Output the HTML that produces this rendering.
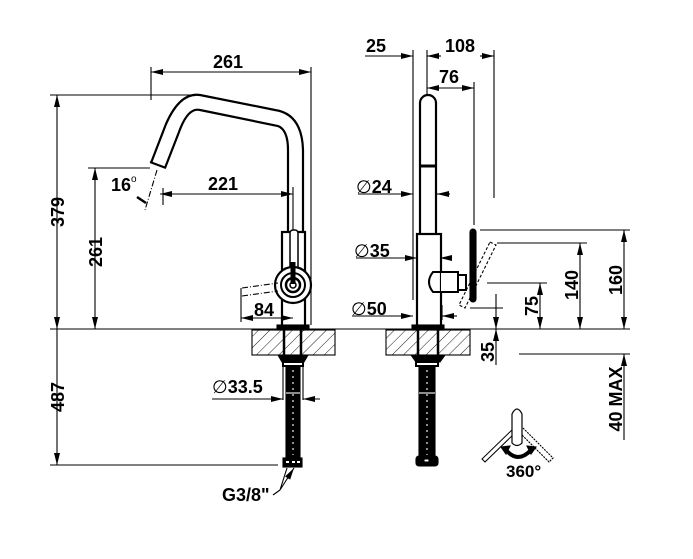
<!DOCTYPE html>
<html><head><meta charset="utf-8"><style>
html,body{margin:0;padding:0;background:#fff}
svg{display:block}
text{font-family:"Liberation Sans",Arial,sans-serif;font-weight:bold;font-size:18px;fill:#000}
</style></head><body>
<svg width="693" height="559" viewBox="0 0 693 559" xmlns="http://www.w3.org/2000/svg">
<defs>
<pattern id="h" width="8" height="8" patternUnits="userSpaceOnUse" patternTransform="rotate(45)">
<line x1="0" y1="0" x2="0" y2="8" stroke="#000" stroke-width="0.9"/></pattern>
<marker id="a" viewBox="0 0 12 6" refX="12" refY="3" markerWidth="12" markerHeight="6" markerUnits="userSpaceOnUse" orient="auto-start-reverse"><path d="M0,0 L12,3 L0,6z" fill="#000"/></marker>
</defs>
<g stroke="#000" stroke-width="1.1" fill="none">
<line x1="50" y1="329" x2="630" y2="329"/>
<line x1="519" y1="354" x2="630" y2="354"/>
<rect x="252" y="330" width="83" height="25" fill="url(#h)"/>
<rect x="386" y="330" width="84" height="25" fill="url(#h)"/>

<line x1="151" y1="67" x2="151" y2="100"/>
<line x1="311" y1="67" x2="311" y2="325"/>
<line x1="151" y1="72" x2="311" y2="72" marker-start="url(#a)" marker-end="url(#a)"/>
<line x1="50" y1="95" x2="198" y2="95"/>
<line x1="57" y1="95" x2="57" y2="329" marker-start="url(#a)" marker-end="url(#a)"/>
<line x1="57" y1="329" x2="57" y2="465" marker-end="url(#a)"/>
<line x1="50" y1="465" x2="278" y2="465"/>
<line x1="88" y1="168" x2="150" y2="168"/>
<line x1="95" y1="168" x2="95" y2="329" marker-start="url(#a)" marker-end="url(#a)"/>
<line x1="160" y1="194" x2="293" y2="194" marker-start="url(#a)" marker-end="url(#a)"/>
<line x1="163" y1="188" x2="163" y2="205"/>
<line x1="293" y1="187" x2="293" y2="235"/>
<line x1="157" y1="170" x2="145" y2="210" stroke-dasharray="6,2,1,2"/>
<path d="M137,197 L146,203" stroke-width="2.5"/>
<path d="M151,163 L166,124 Q180,92 200,95 L275,110 Q302,114 303,150 L303,232" stroke-width="2.2"/>
<path d="M165,168 L179,132 Q188,107 200,110 L278,126 Q288,130 288,150 L288,232" stroke-width="2.2"/>
<line x1="150" y1="162" x2="166" y2="168" stroke-width="2.2"/>
<rect x="282" y="232" width="23" height="96" stroke-width="2.2"/>
<rect x="290" y="230" width="8" height="54" rx="3" stroke-width="1.5" fill="#fff"/>
<circle cx="293" cy="285" r="18" stroke-width="2.2" fill="#fff"/>
<circle cx="293" cy="285" r="12" stroke-width="2"/>
<circle cx="293" cy="285" r="7" stroke-width="2.5"/>
<circle cx="293" cy="285" r="3" stroke-width="1.5"/>
<line x1="293" y1="262" x2="293" y2="284" stroke-width="5"/>
<path d="M242,288 L278,283 M242,296 L278,291" stroke-dasharray="6,2,1,2"/>
<line x1="241" y1="288" x2="241" y2="322"/>
<line x1="241" y1="318" x2="293" y2="318" marker-start="url(#a)" marker-end="url(#a)"/>
<rect x="277" y="325" width="32" height="5" fill="#000"/>
<line x1="284" y1="330" x2="284" y2="355" stroke-width="2.5"/>
<line x1="301" y1="330" x2="301" y2="355" stroke-width="2.5"/>
<path d="M278,355 L308,355 L304,362 L282,362z" fill="#000"/>
<rect x="283" y="362" width="20" height="4" stroke-width="2"/>
<rect x="286" y="366" width="14" height="91" fill="#000"/>
<line x1="293" y1="370" x2="293" y2="455" stroke="#fff" stroke-dasharray="2,4"/>
<line x1="286" y1="393" x2="300" y2="393" stroke="#fff"/>
<rect x="283" y="458" width="19" height="9" fill="#000"/>
<path d="M286,462h3M292,462h3M297,462h3" stroke="#fff" stroke-width="2"/>
<line x1="283" y1="366" x2="283" y2="400"/>
<line x1="303" y1="366" x2="303" y2="400"/>
<line x1="212" y1="399" x2="283" y2="399" marker-end="url(#a)"/>
<line x1="320" y1="399" x2="303" y2="399" marker-end="url(#a)"/>
<path d="M280,490 L287,468 M280,490 L294,468" marker-end="url(#a)"/>
<line x1="273" y1="495" x2="280" y2="490"/>

<line x1="413" y1="50" x2="413" y2="300"/>
<line x1="427" y1="50" x2="427" y2="95"/>
<line x1="494" y1="50" x2="494" y2="198"/>
<line x1="474" y1="82" x2="474" y2="225"/>
<line x1="365" y1="56" x2="413" y2="56" marker-end="url(#a)"/>
<line x1="427" y1="56" x2="441" y2="56" marker-start="url(#a)"/>
<line x1="480" y1="56" x2="494" y2="56" marker-end="url(#a)"/>
<line x1="427" y1="88" x2="474" y2="88" marker-start="url(#a)" marker-end="url(#a)"/>
<path d="M420,233 L420,103 A8,8 0 0 1 436,103 L436,233" stroke-width="2.2"/>
<line x1="420" y1="166" x2="436" y2="166" stroke-width="3"/>
<line x1="358" y1="194" x2="413" y2="194" marker-end="url(#a)"/>
<line x1="450" y1="194" x2="437" y2="194" marker-end="url(#a)"/>
<line x1="356" y1="258" x2="417" y2="258" marker-end="url(#a)"/>
<line x1="452" y1="258" x2="440" y2="258" marker-end="url(#a)"/>
<line x1="352" y1="316" x2="413" y2="316" marker-end="url(#a)"/>
<line x1="457" y1="316" x2="442" y2="316" marker-end="url(#a)"/>
<line x1="442" y1="305" x2="442" y2="320"/>
<rect x="417" y="234" width="24" height="94" stroke-width="2.2" fill="#fff"/>
<path d="M441,272 L433,272 Q425,282 433,292 L441,292" stroke-width="2"/>
<path d="M441,272 L458,272 L458,292 L441,292" stroke-width="2" fill="#fff"/>
<rect x="458" y="275" width="8" height="15" stroke-width="2"/>
<rect x="470" y="229" width="6" height="73" rx="3" fill="#000"/>
<path d="M490,242 L496,245 L465,308 L459,305z" stroke-dasharray="3,2"/>
<rect x="412" y="325" width="32" height="5" fill="#000"/>
<line x1="418" y1="330" x2="418" y2="355" stroke-width="2.5"/>
<line x1="438" y1="330" x2="438" y2="355" stroke-width="2.5"/>
<path d="M411,355 L445,355 L440,362 L416,362z" fill="#000"/>
<rect x="416" y="362" width="22" height="4" stroke-width="2"/>
<rect x="419" y="366" width="16" height="90" fill="#000"/>
<line x1="427" y1="370" x2="427" y2="455" stroke="#fff" stroke-dasharray="2,4"/>
<line x1="419" y1="393" x2="435" y2="393" stroke="#fff"/>
<rect x="416" y="456" width="22" height="10" rx="3" fill="#000"/>
<rect x="424" y="459" width="5" height="3" fill="#fff"/>
<line x1="480" y1="230" x2="630" y2="230"/>
<line x1="497" y1="243" x2="587" y2="243"/>
<line x1="487" y1="283" x2="547" y2="283"/>
<line x1="470" y1="308" x2="503" y2="308"/>
<line x1="624" y1="230" x2="624" y2="329" marker-start="url(#a)" marker-end="url(#a)"/>
<line x1="580" y1="243" x2="580" y2="329" marker-start="url(#a)" marker-end="url(#a)"/>
<line x1="540" y1="283" x2="540" y2="329" marker-start="url(#a)" marker-end="url(#a)"/>
<line x1="496" y1="294" x2="496" y2="329" marker-end="url(#a)"/>
<line x1="496" y1="365" x2="496" y2="329" marker-end="url(#a)"/>
<line x1="624" y1="440" x2="624" y2="354" marker-end="url(#a)"/>
<path d="M514,428 L482,459 L485,462 L517,431" stroke-width="1"/>
<path d="M523,428 L553,458 L549,462 L519,432" stroke-dasharray="2,1"/>
<path d="M512,443 L512,414 Q517,404 522,414 L522,443 Q517,448 512,443z" fill="#fff" stroke-width="1.2"/>
<path d="M506,450 Q518,464 531,450" stroke-width="4"/>
<path d="M501,447 L510,446 L506,454z M536,447 L527,446 L531,454z" fill="#000"/>
</g>
<text x="213" y="68">261</text>
<text x="208" y="190">221</text>
<text x="111" y="191">16</text>
<text x="131" y="182" style="font-size:10px;font-weight:normal">o</text>
<text x="254" y="316">84</text>
<text x="212" y="393"><tspan style="font-weight:normal">∅</tspan>33.5</text>
<text x="222" y="501">G3/8"</text>
<text transform="translate(64,212) rotate(-90)" text-anchor="middle">379</text>
<text transform="translate(102,252) rotate(-90)" text-anchor="middle">261</text>
<text transform="translate(64,397) rotate(-90)" text-anchor="middle">487</text>
<text x="366" y="52">25</text>
<text x="445" y="52">108</text>
<text x="439" y="83">76</text>
<text x="356" y="193"><tspan style="font-weight:normal">∅</tspan>24</text>
<text x="354" y="257"><tspan style="font-weight:normal">∅</tspan>35</text>
<text x="351" y="315"><tspan style="font-weight:normal">∅</tspan>50</text>
<text transform="translate(538,306) rotate(-90)" text-anchor="middle">75</text>
<text transform="translate(578,285) rotate(-90)" text-anchor="middle">140</text>
<text transform="translate(622,280) rotate(-90)" text-anchor="middle">160</text>
<text transform="translate(494,352) rotate(-90)" text-anchor="middle">35</text>
<text transform="translate(622,399) rotate(-90)" text-anchor="middle">40 MAX</text>
<text x="506" y="477" style="font-size:17px">360°</text>
</svg>
</body></html>
